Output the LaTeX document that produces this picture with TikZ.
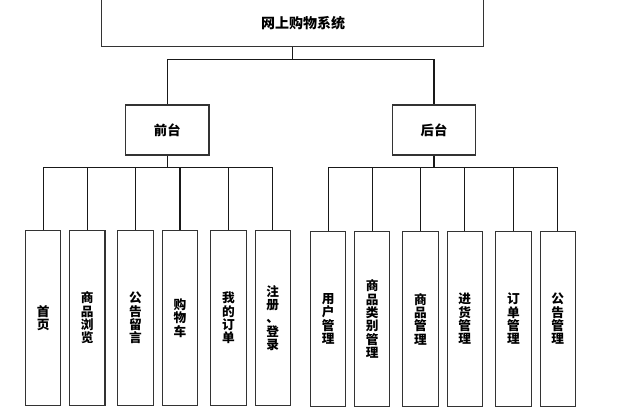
\documentclass[tikz,border=0pt]{standalone}
\usepackage{fontspec}
\setmainfont{Noto Sans CJK SC}

\begin{document}
\begin{tikzpicture}[x=0.75pt, y=-0.75pt,
	sysbox/.style={draw=black!80, line width=0.8pt, minimum width=287pt, minimum height=37pt, inner sep=0pt},
	partbox/.style={draw=black!80, line width=0.8pt, minimum width=62.5pt, minimum height=37.5pt, inner sep=0pt, font=\fontsize{10}{12}\selectfont\bfseries},
	leafbox/.style={draw=black!80, line width=0.8pt, minimum width=26.5pt, minimum height=131pt, inner sep=0pt, align=center, font=\fontsize{9.5}{10}\selectfont\bfseries},
	link/.style={black!90, line width=0.8pt}]
	\useasboundingbox (0,0) rectangle (625,408);
	% top level
	\node[sysbox, label={[xshift=8pt, yshift=-1pt, font=\fontsize{10.5}{12}\selectfont\bfseries]center:网上购物系统}] (sys) at (292.5,21.5) {};
	\node[partbox] (front) at (167.3,130) {前台};
	\node[partbox] (back) at (434,130) {后台};
	% front end modules
	\node[leafbox] (home) at (43.2,318) {首\\页};
	\node[leafbox] (browse) at (87.3,318) {商\\品\\浏\\览};
	\node[leafbox] (notice) at (135.5,318) {公\\告\\留\\言};
	\node[leafbox] (cart) at (180,318) {购\\物\\车};
	\node[leafbox] (myorder) at (228.5,318) {我\\的\\订\\单};
	\node[leafbox] (login) at (272.8,318) {注\\册\\、\\登\\录};
	% back end modules
	\node[leafbox] (user) at (328.2,319) {用\\户\\管\\理};
	\node[leafbox] (category) at (372.2,319) {商\\品\\类\\别\\管\\理};
	\node[leafbox] (goods) at (420.5,319) {商\\品\\管\\理};
	\node[leafbox] (stock) at (464.8,319) {进\\货\\管\\理};
	\node[leafbox] (order) at (513.5,319) {订\\单\\管\\理};
	\node[leafbox] (news) at (557.7,319) {公\\告\\管\\理};
	% connectors
	\draw[link] (sys.south) -- ++(0,13) -| (front.north);
	\draw[link] (sys.south) ++(0,13) -| (back.north);
	\draw[link] (front.south) -- ++(0,12) -| (home.north);
	\draw[link] (front.south) ++(0,12) -| (browse.north);
	\draw[link] (front.south) ++(0,12) -| (notice.north);
	\draw[link] (front.south) ++(0,12) -| (cart.north);
	\draw[link] (front.south) ++(0,12) -| (myorder.north);
	\draw[link] (front.south) ++(0,12) -| (login.north);
	\draw[link] (back.south) -- ++(0,12) -| (user.north);
	\draw[link] (back.south) ++(0,12) -| (category.north);
	\draw[link] (back.south) ++(0,12) -| (goods.north);
	\draw[link] (back.south) ++(0,12) -| (stock.north);
	\draw[link] (back.south) ++(0,12) -| (order.north);
	\draw[link] (back.south) ++(0,12) -| (news.north);
\end{tikzpicture}
\end{document}
